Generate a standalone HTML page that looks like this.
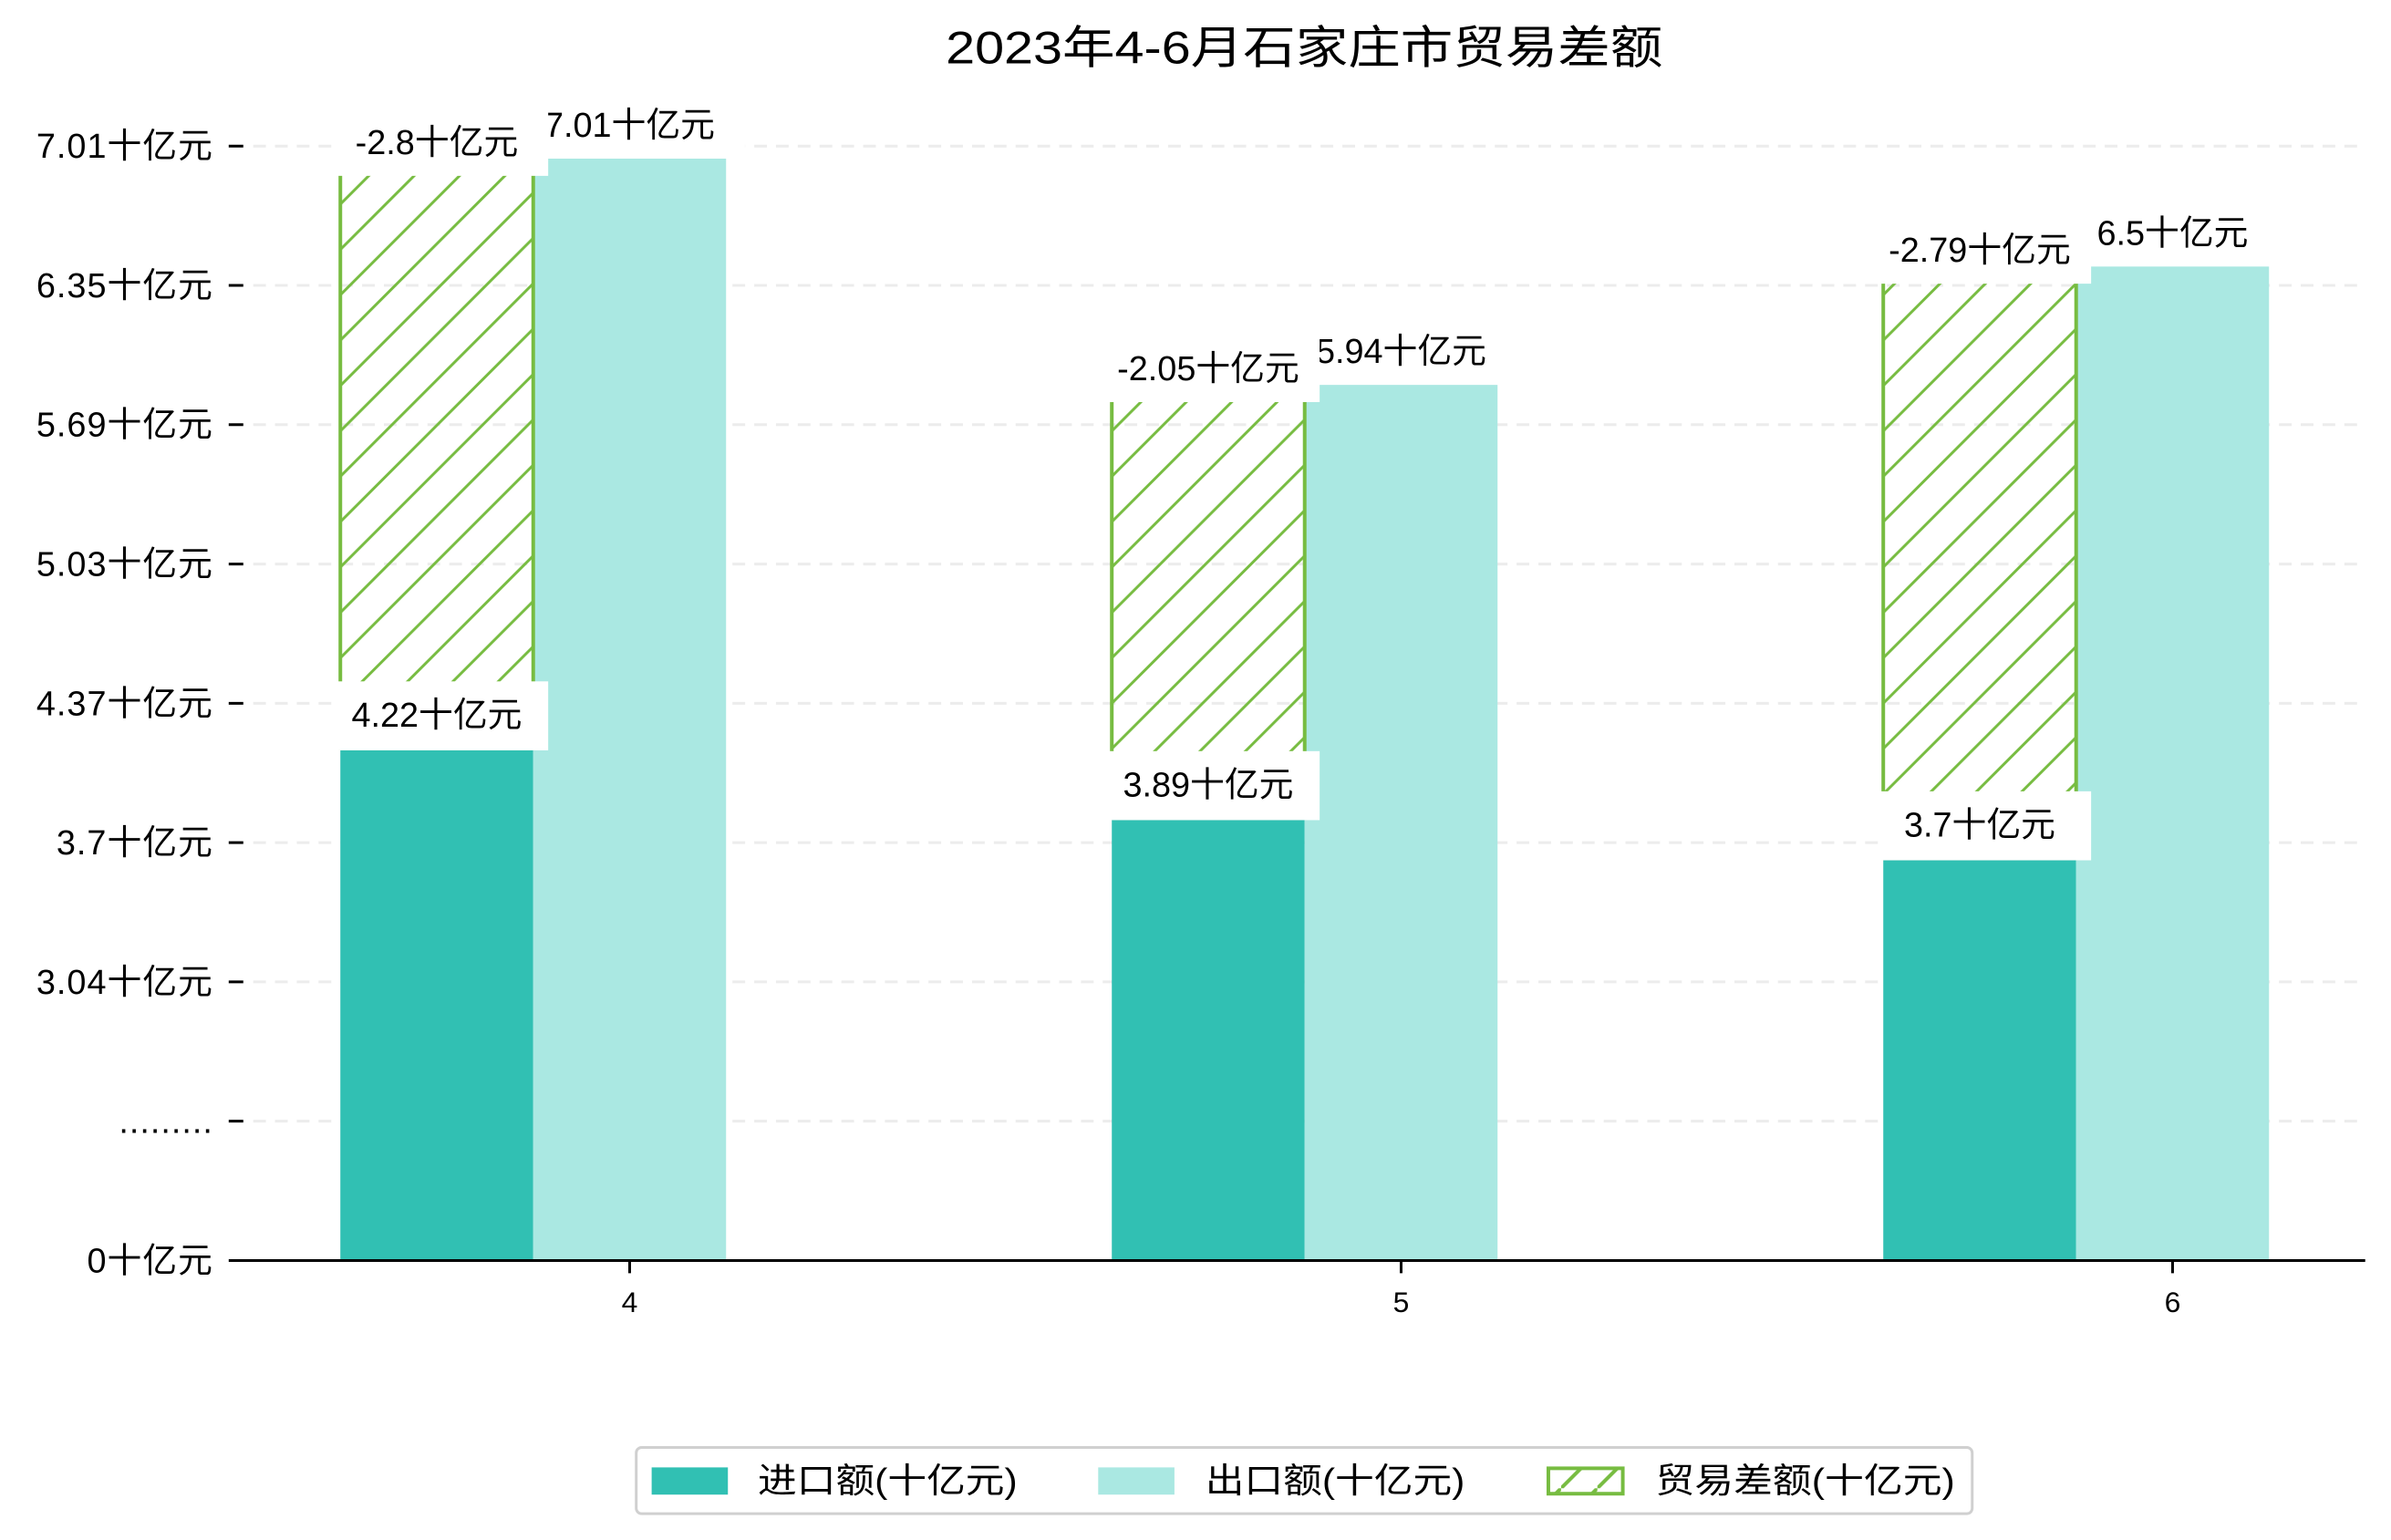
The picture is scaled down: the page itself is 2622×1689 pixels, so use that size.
<!DOCTYPE html>
<html><head><meta charset="utf-8">
<style>
html,body{margin:0;padding:0;background:#fff;}
svg{display:block;font-family:"Liberation Sans","Noto Sans CJK SC","WenQuanYi Zen Hei",sans-serif;}
</style></head>
<body>
<svg id="chart" width="2622" height="1689" viewBox="0 0 2634 1697" preserveAspectRatio="xMinYMin meet" xmlns="http://www.w3.org/2000/svg">
<defs>
<pattern id="hatch" patternUnits="userSpaceOnUse" width="50" height="50">
<line x1="-5" y1="55" x2="55" y2="-5" stroke="#77bc41" stroke-width="3"/>
<line x1="-30" y1="30" x2="30" y2="-30" stroke="#77bc41" stroke-width="3"/>
<line x1="20" y1="80" x2="80" y2="20" stroke="#77bc41" stroke-width="3"/>
</pattern>
<pattern id="hatch-legend" patternUnits="userSpaceOnUse" width="40" height="40">
<line x1="-5" y1="45" x2="45" y2="-5" stroke="#77bc41" stroke-width="4"/>
</pattern>
</defs>
<text x="1437" y="70" font-size="50" text-anchor="middle" textLength="790" lengthAdjust="spacingAndGlyphs">2023年4-6月石家庄市贸易差额</text>
<g id="grid"></g>
<g id="yaxis"></g>
<g id="bars"></g>
<g id="labels"></g>
<g id="xaxis"></g>
<g>
<rect x="701" y="1595" width="1472" height="73" rx="6" fill="#fff" stroke="#d0d0d0" stroke-width="3"/>
<g>
<rect x="718" y="1617" width="84" height="30" fill="#31c0b3"/>
<text x="835" y="1645" font-size="38" textLength="286" lengthAdjust="spacingAndGlyphs">进口额(十亿元)</text>
</g>
<g>
<rect x="1210" y="1617" width="84" height="30" fill="#aae8e2"/>
<text x="1328" y="1645" font-size="38" textLength="286" lengthAdjust="spacingAndGlyphs">出口额(十亿元)</text>
</g>
<g>
<rect x="1706" y="1618" width="82" height="28" fill="url(#hatch-legend)" stroke="#77bc41" stroke-width="4"/>
<text x="1824" y="1645" font-size="38" textLength="330" lengthAdjust="spacingAndGlyphs">贸易差额(十亿元)</text>
</g>
</g>
</svg>
<script>
const categories = ["4", "5", "6"];
const importValues = [4.22, 3.89, 3.7];
const exportValues = [7.01, 5.94, 6.5];
const balanceValues = [-2.8, -2.05, -2.79];
const yTickLabels = ["7.01十亿元","6.35十亿元","5.69十亿元","5.03十亿元","4.37十亿元","3.7十亿元","3.04十亿元",".........","0十亿元"];

const NS = "http://www.w3.org/2000/svg";
const axisY = 1389, plotLeft = 255, plotRight = 2606;
const barW = 212.5, groupStep = 850, firstLeft = 375;
function yScale(v){ return 946 - (v - 3.7) * 233; }
function xLeft(i){ return firstLeft + i * groupStep; }
function tickY(i){ return 161 + i * 153.5; }
function mk(tag, attrs, parent){
  const e = document.createElementNS(NS, tag);
  for (const k in attrs) e.setAttribute(k, attrs[k]);
  parent.appendChild(e);
  return e;
}
const grid = document.getElementById('grid');
const yaxis = document.getElementById('yaxis');
const bars = document.getElementById('bars');
const labels = document.getElementById('labels');
const xaxis = document.getElementById('xaxis');

yTickLabels.forEach((t, i) => {
  const y = tickY(i);
  if (i < yTickLabels.length - 1) {
    const g = mk('line', {x1: plotLeft, x2: plotRight, y1: y, y2: y, stroke: '#ececec', 'stroke-width': 3, 'stroke-dasharray': '14,10'}, grid);
    
    
  }
  const tk = mk('line', {x1: 252, x2: 268, y1: y, y2: y, stroke: '#000', 'stroke-width': 3}, yaxis);
  
  
  const tx = mk('text', {x: 235, y: y + 13, 'font-size': 38, 'text-anchor': 'end', 'letter-spacing': 1}, yaxis);
  tx.textContent = t;
  
  
});

function labelBox(txt, cx, cy, boxLeft, boxTop, boxH, name){
  const r = mk('rect', {x: boxLeft, y: boxTop, width: 233, height: boxH, fill: '#fff'}, labels);
  
  
  const t = mk('text', {x: cx, y: cy + 13, 'font-size': 38, 'text-anchor': 'middle'}, labels);
  t.textContent = txt;
  
  
}

categories.forEach((c, i) => {
  const L = xLeft(i);
  const impTop = yScale(importValues[i]);
  const expTop = yScale(exportValues[i]);
  const balTop = yScale(importValues[i] + Math.abs(balanceValues[i]));
  const bi = mk('rect', {x: L, y: impTop, width: barW, height: axisY - impTop, fill: '#31c0b3'}, bars);
  
  
  const be = mk('rect', {x: L + barW, y: expTop, width: barW, height: axisY - expTop, fill: '#aae8e2'}, bars);
  
  
  const bh = mk('rect', {x: L, y: balTop, width: barW, height: impTop - balTop, fill: 'url(#hatch)', stroke: '#77bc41', 'stroke-width': 4}, bars);
  
  
});
categories.forEach((c, i) => {
  const L = xLeft(i);
  const impTop = yScale(importValues[i]);
  const expTop = yScale(exportValues[i]);
  labelBox(importValues[i] + '十亿元', L + barW/2, impTop - 37, L - 4, impTop - 74, 76, 'import-label-' + c);
  labelBox(exportValues[i] + '十亿元', L + barW*1.5, expTop - 37, L + barW*1.5 - 106, expTop - 74, 74, 'export-label-' + c);
});
categories.forEach((c, i) => {
  const L = xLeft(i);
  const expTop = yScale(exportValues[i]);
  labelBox(balanceValues[i] + '十亿元', L + barW/2, expTop - 18, L - 4, expTop - 55, 74, 'balance-label-' + c);
});

const ax = mk('line', {x1: plotLeft, x2: plotRight, y1: axisY, y2: axisY, stroke: '#000', 'stroke-width': 3}, xaxis);


categories.forEach((c, i) => {
  const x = xLeft(i) + barW * 1.5;
  const t = mk('line', {x1: x, x2: x, y1: axisY, y2: axisY + 14, stroke: '#000', 'stroke-width': 3}, xaxis);
  
  
  const l = mk('text', {x: x, y: 1446, 'font-size': 32, 'text-anchor': 'middle'}, xaxis);
  l.textContent = c;
  
  
});
</script>
</body></html>
